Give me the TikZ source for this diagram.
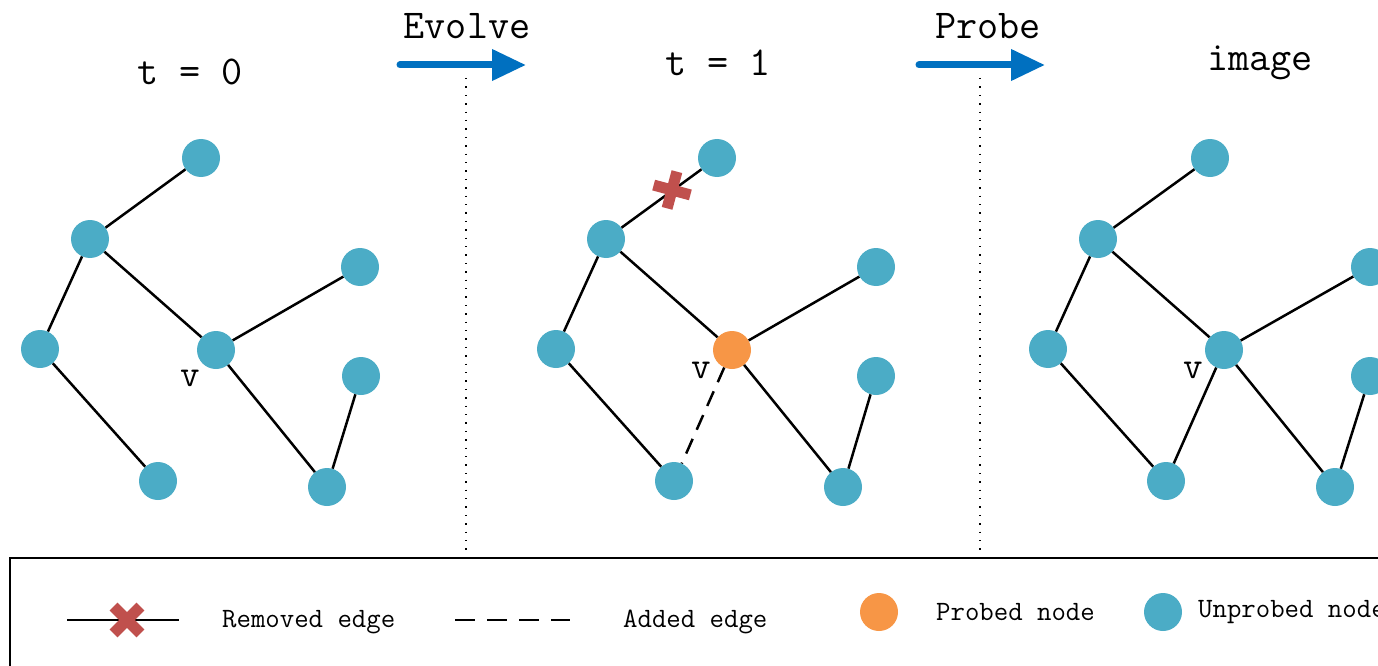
\documentclass[tikz,border=0pt]{standalone}
\usepackage{fontspec}
\usetikzlibrary{arrows.meta}
\definecolor{blu}{HTML}{4BACC6}
\definecolor{org}{HTML}{F79646}
\definecolor{xred}{HTML}{C0504D}
\definecolor{arr}{HTML}{0070C0}
\begin{document}
\begin{tikzpicture}[x=1pt,y=-1pt,
  nd/.style={circle,fill=blu,minimum size=38pt,inner sep=0pt},
  pnd/.style={circle,fill=org,minimum size=38pt,inner sep=0pt},
  edge/.style={line width=2.5pt},
  added/.style={line width=2.5pt,dash pattern=on 16pt off 10pt},
  xmark/.style={line width=11pt,xred},
  title/.style={font=\ttfamily\fontsize{41}{46}\selectfont,inner sep=0pt},
  lbl/.style={font=\ttfamily\fontsize{28}{32}\selectfont,inner sep=0pt},
  vlbl/.style={font=\ttfamily\fontsize{38}{42}\selectfont,inner sep=0pt},
  bigarrow/.style={arr,line width=7pt,line cap=round,-{Triangle[length=34pt,width=30pt]}},
  sep/.style={line width=1.4pt,dash pattern=on 1.4pt off 7pt}]
\useasboundingbox (0,0) rectangle (1378,666);
\clip (0,0) rectangle (1378,666);
% titles and arrows
\node[title] (t0) at (190,72) {t = 0};
\node[title] (ev) at (467,26) {Evolve};
\node[title] (t1) at (718,63) {t = 1};
\node[title] (pr) at (988,26) {Probe};
\node[title] (im) at (1260,63) {image};
\coordinate (ea) at (400,65); \coordinate (eb) at (526,65);
\coordinate (pa) at (919,65); \coordinate (pb) at (1045,65);
\draw[bigarrow] (ea) -- (eb);
\draw[bigarrow] (pa) -- (pb);
% separators
\coordinate (s1a) at (466,78); \coordinate (s1b) at (466,556);
\coordinate (s2a) at (980,78); \coordinate (s2b) at (980,556);
\draw[sep] (s1a) -- (s1b);
\draw[sep] (s2a) -- (s2b);
% panel 1
\node[nd] (a1) at (201,158) {};
\node[nd] (b1) at (90,239) {};
\node[nd] (c1) at (360,267) {};
\node[nd] (v1) at (216,350) {};
\node[nd] (d1) at (40,349) {};
\node[nd] (e1) at (361,376) {};
\node[nd] (f1) at (158,481) {};
\node[nd] (g1) at (327,487) {};
\node[vlbl] (l1) at (190,378) {v};
\draw[edge] (b1)--(a1) (b1)--(v1) (b1)--(d1) (v1)--(c1) (v1)--(g1) (g1)--(e1) (d1)--(f1);
% panel 2
\node[nd] (a2) at (717,158) {};
\node[nd] (b2) at (606,239) {};
\node[nd] (c2) at (876,267) {};
\node[pnd] (v2) at (732,350) {};
\node[nd] (d2) at (556,349) {};
\node[nd] (e2) at (876,376) {};
\node[nd] (f2) at (674,481) {};
\node[nd] (g2) at (843,487) {};
\node[vlbl] (l2) at (701,370) {v};
\draw[edge] (b2)--(a2) (b2)--(v2) (b2)--(d2) (v2)--(c2) (v2)--(g2) (g2)--(e2) (d2)--(f2);
\draw[added] (v2)--(f2);
\draw[xmark,shift={(672,190)},rotate=-15] (-19,0)--(19,0) (0,-19)--(0,19);
% panel 3
\node[nd] (a3) at (1210,158) {};
\node[nd] (b3) at (1098,239) {};
\node[nd] (c3) at (1370,267) {};
\node[nd] (v3) at (1224,350) {};
\node[nd] (d3) at (1048,349) {};
\node[nd] (e3) at (1370,376) {};
\node[nd] (f3) at (1166,481) {};
\node[nd] (g3) at (1335,487) {};
\node[vlbl] (l3) at (1193,370) {v};
\draw[edge] (b3)--(a3) (b3)--(v3) (b3)--(d3) (v3)--(c3) (v3)--(g3) (g3)--(e3) (d3)--(f3) (v3)--(f3);
% legend
\coordinate (lb1) at (10,558); \coordinate (lb2) at (1400,700);
\draw[line width=2pt] (lb1) rectangle (lb2);
\coordinate (r1) at (67,620); \coordinate (r2) at (179,620);
\draw[edge] (r1) -- (r2);
\draw[xmark,shift={(127,620)},rotate=45] (-19,0)--(19,0) (0,-19)--(0,19);
\node[lbl,anchor=west] (rt) at (222,622) {Removed edge};
\coordinate (a1l) at (455,620); \coordinate (a2l) at (570,620);
\draw[added,dash pattern=on 20pt off 12pt] (a1l) -- (a2l);
\node[lbl,anchor=west] (at) at (623,622) {Added edge};
\node[pnd] (pl) at (879,612) {};
\node[lbl,anchor=west] (pt) at (936,612) {Probed node};
\node[nd] (ul) at (1163,612) {};
\node[lbl,anchor=west] (ut) at (1198,612) {Unprobed node};
\end{tikzpicture}
\end{document}
